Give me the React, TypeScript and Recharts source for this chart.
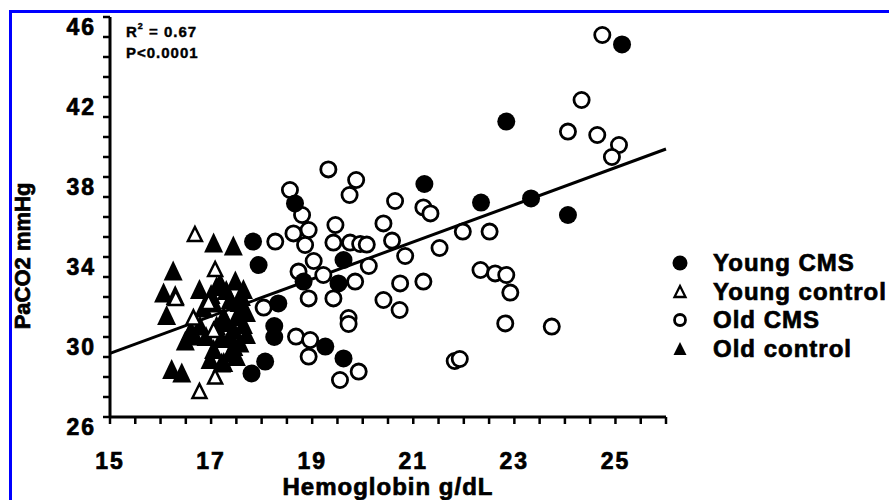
import { ScatterChart, Scatter, XAxis, YAxis, Label } from 'recharts';

// points: [hemoglobin g/dL, PaCO2 mmHg]
const youngCMS = [
  [25.13, 44.63], [22.84, 40.77], [21.22, 37.65], [22.34, 36.72], [23.33, 36.93], [24.06, 36.1],
  [18.66, 36.68], [19.62, 33.85], [18.83, 32.77], [19.52, 32.68], [19.26, 29.52], [19.62, 28.93],
  [17.83, 34.77], [17.94, 33.6], [18.33, 31.68], [18.25, 30.55], [18.25, 30.0], [18.07, 28.77],
  [17.8, 28.18],
];

const youngControl = [
  [16.68, 35.1], [17.08, 33.35], [16.3, 31.9], [16.65, 30.93], [17.08, 27.97], [16.77, 27.25],
  [16.95, 31.7], [17.05, 30.3],
];

const oldCMS = [
  [24.74, 45.1], [24.33, 41.85], [24.06, 40.27], [24.64, 40.1], [25.07, 39.6], [24.93, 39.0],
  [19.32, 38.38], [19.87, 37.85], [19.74, 37.1], [20.64, 36.8], [21.2, 36.48], [21.34, 36.18],
  [18.56, 37.35], [18.8, 36.1], [18.63, 35.18], [18.93, 35.35], [19.46, 35.6], [20.41, 35.68],
  [21.98, 35.27], [22.51, 35.27], [19.42, 34.72], [19.75, 34.72], [19.95, 34.65], [20.08, 34.62],
  [20.58, 34.82], [21.52, 34.45], [18.86, 34.6], [18.27, 34.77], [20.84, 34.05], [19.03, 33.8],
  [20.12, 33.55], [18.73, 33.27], [19.22, 33.1], [19.85, 32.77], [20.74, 32.68], [21.2, 32.77],
  [18.93, 31.93], [19.42, 31.93], [20.41, 31.85], [20.73, 31.35], [19.72, 30.95], [19.72, 30.65],
  [18.68, 30.02], [18.96, 29.85], [18.93, 29.02], [19.92, 28.27], [19.55, 27.85], [21.82, 28.8],
  [21.92, 28.9], [22.33, 33.35], [22.62, 33.18], [22.84, 33.1], [22.92, 32.22], [22.82, 30.68],
  [23.74, 30.52], [18.04, 31.47],
];

const oldControl = [
  [17.05, 34.68], [17.44, 34.52], [16.25, 33.27], [16.06, 32.18], [16.29, 32.05], [16.12, 31.05],
  [16.77, 32.35], [17.18, 32.68], [17.48, 32.77], [17.64, 32.35], [17.38, 31.85], [17.05, 31.68],
  [16.85, 31.43], [17.64, 31.35], [17.25, 31.0], [17.51, 31.0], [17.11, 30.52], [17.44, 30.35],
  [16.68, 30.02], [16.49, 29.77], [17.38, 30.02], [17.57, 29.68], [17.05, 29.35], [17.38, 29.18],
  [16.98, 28.85], [17.21, 28.68], [16.22, 28.35], [16.42, 28.18], [17.3, 32.3], [17.55, 31.7],
  [17.2, 29.9], [16.6, 30.3], [17.11, 32.5], [17.6, 32.0], [17.7, 31.2], [17.64, 30.6],
  [16.78, 30.52], [16.58, 30.18], [17.45, 29.5], [17.25, 28.7], [17.0, 32.1], [17.3, 30.7],
  [16.9, 30.0], [17.7, 30.1], [17.5, 29.0],
];

// regression line end points
const fitLine = [[15, 29.18], [26, 39.4]];

const xTicks = [15, 15.5, 16, 16.5, 17, 17.5, 18, 18.5, 19, 19.5, 20, 20.5, 21, 21.5, 22, 22.5, 23, 23.5, 24, 24.5, 25, 25.5, 26];
const xLabels = [15, 17, 19, 21, 23, 25];
const yTicks = [26, 27, 28, 29, 30, 31, 32, 33, 34, 35, 36, 37, 38, 39, 40, 41, 42, 43, 44, 45, 46];
const yLabels = [26, 30, 34, 38, 42, 46];

const legendItems = [
  { name: 'Young CMS', marker: 'dot' },
  { name: 'Young control', marker: 'openTri' },
  { name: 'Old CMS', marker: 'ring' },
  { name: 'Old control', marker: 'tri' },
];

const FONT = '"Liberation Sans", Arial, sans-serif';
const toPts = (arr: number[][]) => arr.map(([x, y]) => ({ x, y }));

const Dot = ({ cx, cy }: any) => <circle cx={cx} cy={cy} r={9} fill="#000" />;
const Ring = ({ cx, cy }: any) => <circle cx={cx} cy={cy} r={7.6} fill="#fff" stroke="#000" strokeWidth={2.8} />;
const Tri = ({ cx, cy }: any) => (
  <polygon points={`${cx},${cy - 11} ${cx + 9.5},${cy + 9} ${cx - 9.5},${cy + 9}`} fill="#000" />
);
const OpenTri = ({ cx, cy }: any) => (
  <polygon points={`${cx},${cy - 8} ${cx + 7},${cy + 6} ${cx - 7},${cy + 6}`} fill="#fff" stroke="#000" strokeWidth={2.5} strokeLinejoin="miter" />
);

const XTick = ({ x, y, payload }: any) => (
  <g>
    <line x1={x} y1={y - 7} x2={x} y2={y} stroke="#000" strokeWidth={2.5} />
    {xLabels.includes(payload.value) && (
      <text x={x} y={y + 45} textAnchor="middle" fontFamily={FONT} fontWeight="bold" fontSize={23} letterSpacing={2} stroke="#000" strokeWidth={0.7} fill="#000">
        {payload.value}
      </text>
    )}
  </g>
);

const YTick = ({ x, y, payload }: any) => (
  <g>
    <line x1={x} y1={y} x2={x + 7} y2={y} stroke="#000" strokeWidth={2.5} />
    {yLabels.includes(payload.value) && (
      <text x={x - 7} y={y + 18} textAnchor="end" fontFamily={FONT} fontWeight="bold" fontSize={23} letterSpacing={2} stroke="#000" strokeWidth={0.7} fill="#000">
        {payload.value}
      </text>
    )}
  </g>
);

const LegendMarker = ({ kind }: { kind: string }) => (
  <svg width={20} height={20} style={{ display: 'block' }}>
    {kind === 'dot' && <circle cx={10} cy={10} r={7.5} fill="#000" />}
    {kind === 'ring' && <circle cx={10} cy={10} r={5.5} fill="#fff" stroke="#000" strokeWidth={2.8} />}
    {kind === 'tri' && <polygon points="10,3 16.5,16 3.5,16" fill="#000" />}
    {kind === 'openTri' && <polygon points="10,4 15.5,15 4.5,15" fill="#fff" stroke="#000" strokeWidth={2.3} />}
  </svg>
);

export default function App() {
  return (
    <div style={{ position: 'absolute', left: 0, top: 0, width: 889, height: 500, background: '#fff', overflow: 'hidden' }}>
      <div style={{ position: 'absolute', left: 9, top: 10, width: 880, height: 490, borderTop: '3px solid #0000ff', borderLeft: '3px solid #0000ff', boxSizing: 'border-box' }} />
      <ScatterChart width={889} height={500} margin={{ top: 17, right: 223, left: 0, bottom: 0 }} style={{ position: 'absolute', left: 0, top: 0 }}>
        <XAxis
          type="number"
          dataKey="x"
          domain={[15, 26]}
          ticks={xTicks}
          interval={0}
          height={83}
          tickSize={7}
          tickMargin={0}
          axisLine={{ stroke: '#000', strokeWidth: 3 }}
          tickLine={false}
          tick={<XTick />}
        >
          <Label
            content={() => (
              <text x={388} y={495} textAnchor="middle" fontFamily={FONT} fontWeight="bold" fontSize={24} letterSpacing={1} stroke="#000" strokeWidth={0.7} fill="#000">
                Hemoglobin g/dL
              </text>
            )}
          />
        </XAxis>
        <YAxis
          type="number"
          dataKey="y"
          domain={[26, 46]}
          ticks={yTicks}
          interval={0}
          width={110}
          tickSize={7}
          tickMargin={0}
          axisLine={{ stroke: '#000', strokeWidth: 3 }}
          tickLine={false}
          tick={<YTick />}
        >
          <Label
            content={() => (
              <text x={30} y={256} transform="rotate(-90 30 256)" textAnchor="middle" fontFamily={FONT} fontWeight="bold" fontSize={22} stroke="#000" strokeWidth={0.7} fill="#000">
                PaCO2 mmHg
              </text>
            )}
          />
        </YAxis>
        <Scatter data={toPts(fitLine)} line={{ stroke: '#000', strokeWidth: 3 }} shape={() => <g />} isAnimationActive={false} />
        <Scatter name="Old control" data={toPts(oldControl)} shape={<Tri />} isAnimationActive={false} />
        <Scatter name="Young control" data={toPts(youngControl)} shape={<OpenTri />} isAnimationActive={false} />
        <Scatter name="Old CMS" data={toPts(oldCMS)} shape={<Ring />} isAnimationActive={false} />
        <Scatter name="Young CMS" data={toPts(youngCMS)} shape={<Dot />} isAnimationActive={false} />
      </ScatterChart>
      <div style={{ position: 'absolute', left: 126, top: 21, fontFamily: FONT, fontWeight: 'bold', fontSize: 15, letterSpacing: 1, lineHeight: '21px', color: '#000', WebkitTextStroke: '0.4px #000' }}>
        <div>R<sup style={{ fontSize: 9, verticalAlign: 'top', lineHeight: '10px' }}>2</sup> = 0.67</div>
        <div>P&lt;0.0001</div>
      </div>
      <div style={{ position: 'absolute', left: 670, top: 249, fontFamily: FONT, fontWeight: 'bold', fontSize: 24, letterSpacing: 1, color: '#000', WebkitTextStroke: '0.7px #000' }}>
        {legendItems.map((it) => (
          <div key={it.name} style={{ display: 'flex', alignItems: 'center', height: 28.5 }}>
            <LegendMarker kind={it.marker} />
            <span style={{ marginLeft: 23, lineHeight: '28px' }}>{it.name}</span>
          </div>
        ))}
      </div>
    </div>
  );
}
